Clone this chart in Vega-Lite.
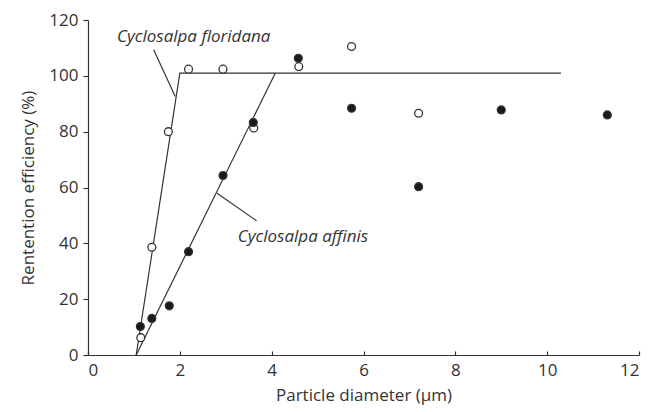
{
  "$schema": "https://vega.github.io/schema/vega-lite/v6.json",
  "width": 551,
  "height": 335,
  "autosize": "none",
  "padding": {"left": 88, "top": 20, "right": 12, "bottom": 57},
  "background": "white",
  "config": {
    "view": {"stroke": null},
    "font": "Open Sans",
    "axis": {
      "grid": false,
      "domainColor": "#333",
      "domainWidth": 1.2,
      "tickColor": "#333",
      "tickWidth": 1.2,
      "labelColor": "#333",
      "titleColor": "#333",
      "labelFont": "Open Sans",
      "titleFont": "Open Sans",
      "labelFontSize": 17,
      "titleFontSize": 17,
      "titleFontWeight": "normal"
    }
  },
  "datasets": {
    "pts": [
      {"d": 1.15, "r": 6.2, "type": "open"},
      {"d": 1.39, "r": 38.6, "type": "open"},
      {"d": 1.75, "r": 80, "type": "open"},
      {"d": 2.19, "r": 102.4, "type": "open"},
      {"d": 2.94, "r": 102.4, "type": "open"},
      {"d": 3.61, "r": 81.3, "type": "open"},
      {"d": 4.59, "r": 103.3, "type": "open"},
      {"d": 5.74, "r": 110.5, "type": "open"},
      {"d": 7.2, "r": 86.6, "type": "open"},
      {"d": 1.14, "r": 10.2, "type": "filled"},
      {"d": 1.39, "r": 13.1, "type": "filled"},
      {"d": 1.77, "r": 17.6, "type": "filled"},
      {"d": 2.19, "r": 37.0, "type": "filled"},
      {"d": 2.94, "r": 64.3, "type": "filled"},
      {"d": 3.6, "r": 83.3, "type": "filled"},
      {"d": 4.58, "r": 106.3, "type": "filled"},
      {"d": 5.74, "r": 88.4, "type": "filled"},
      {"d": 7.2, "r": 60.3, "type": "filled"},
      {"d": 9.0, "r": 87.8, "type": "filled"},
      {"d": 11.31, "r": 86.0, "type": "filled"}
    ],
    "lines": [
      {"series": "floridana", "i": 0, "d": 1.05, "r": 0},
      {"series": "floridana", "i": 1, "d": 2.0, "r": 101},
      {"series": "floridana", "i": 2, "d": 10.3, "r": 101},
      {"series": "affinis", "i": 0, "d": 1.05, "r": 0},
      {"series": "affinis", "i": 1, "d": 4.08, "r": 101},
      {"series": "flor_leader", "i": 0, "d": 1.43, "r": 109.3},
      {"series": "flor_leader", "i": 1, "d": 1.9, "r": 92.6},
      {"series": "aff_leader", "i": 0, "d": 2.81, "r": 57.9},
      {"series": "aff_leader", "i": 1, "d": 3.67, "r": 48.1}
    ],
    "labels": [
      {"label": "Cyclosalpa floridana", "d": 0.63, "r": 114},
      {"label": "Cyclosalpa affinis", "d": 3.26, "r": 42.4}
    ]
  },
  "layer": [
    {
      "data": {"name": "lines"},
      "mark": {"type": "line", "color": "#333", "strokeWidth": 1.2},
      "encoding": {
        "x": {
          "field": "d", "type": "quantitative",
          "scale": {"domain": [0, 12], "nice": false},
          "axis": {"values": [0, 2, 4, 6, 8, 10, 12], "tickSize": -4, "labelPadding": 11, "title": "Particle diameter (μm)", "titlePadding": 9}
        },
        "y": {
          "field": "r", "type": "quantitative",
          "scale": {"domain": [0, 120], "nice": false},
          "axis": {"values": [0, 20, 40, 60, 80, 100, 120], "tickSize": 5, "labelPadding": 5, "title": "Rentention efficiency (%)", "titlePadding": 11}
        },
        "detail": {"field": "series"},
        "order": {"field": "i"}
      }
    },
    {
      "data": {"name": "pts"},
      "mark": {"type": "point", "shape": "circle", "filled": false, "strokeWidth": 1.3, "size": 62, "opacity": 1},
      "encoding": {
        "x": {"field": "d", "type": "quantitative"},
        "y": {"field": "r", "type": "quantitative"},
        "fill": {"field": "type", "type": "nominal", "scale": {"domain": ["open", "filled"], "range": ["white", "#1a1a1a"]}, "legend": null},
        "stroke": {"value": "#333"},
        "fillOpacity": {"value": 1}
      }
    },
    {
      "data": {"name": "labels"},
      "mark": {"type": "text", "align": "left", "baseline": "middle", "fontStyle": "italic", "fontSize": 17, "color": "#333", "font": "Open Sans"},
      "encoding": {
        "x": {"field": "d", "type": "quantitative"},
        "y": {"field": "r", "type": "quantitative"},
        "text": {"field": "label"}
      }
    }
  ]
}
